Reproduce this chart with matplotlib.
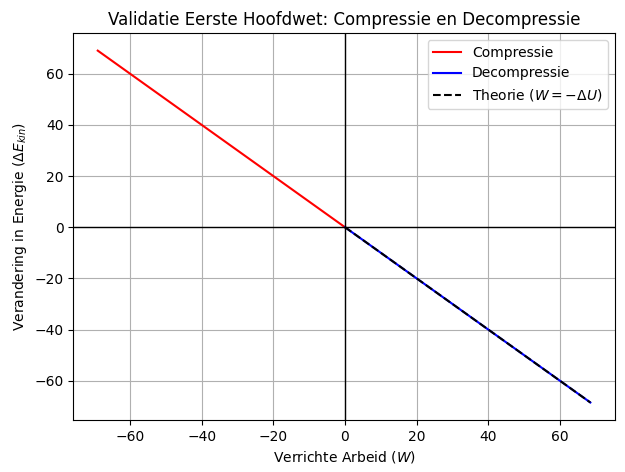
import matplotlib
matplotlib.use("Agg")
import matplotlib.pyplot as plt
import numpy as np

comp_W = [-69.0, 0.0]
comp_E = [69.0, 0.0]
decomp_W = [0.0, 68.5]
decomp_E = [0.0, -68.5]
theory_W = [0.0, 68.5]
theory_E = [0.0, -68.5]

fig, ax = plt.subplots(figsize=(6.25, 4.72), dpi=100)
ax.plot(comp_W, comp_E, color='red', label='Compressie')
ax.plot(decomp_W, decomp_E, color='blue', label='Decompressie')
ax.plot(theory_W, theory_E, 'k--', label=r'Theorie ($W = -\Delta U$)')
ax.axhline(0, color='black', linewidth=1)
ax.axvline(0, color='black', linewidth=1)
ax.set_xlabel(r'Verrichte Arbeid ($W$)')
ax.set_ylabel(r'Verandering in Energie ($\Delta E_{kin}$)')
ax.set_title('Validatie Eerste Hoofdwet: Compressie en Decompressie')
ax.grid(True)
ax.legend(loc='upper right')
fig.subplots_adjust(left=0.117, right=0.984, top=0.930, bottom=0.110)
fig.savefig('out.png')
